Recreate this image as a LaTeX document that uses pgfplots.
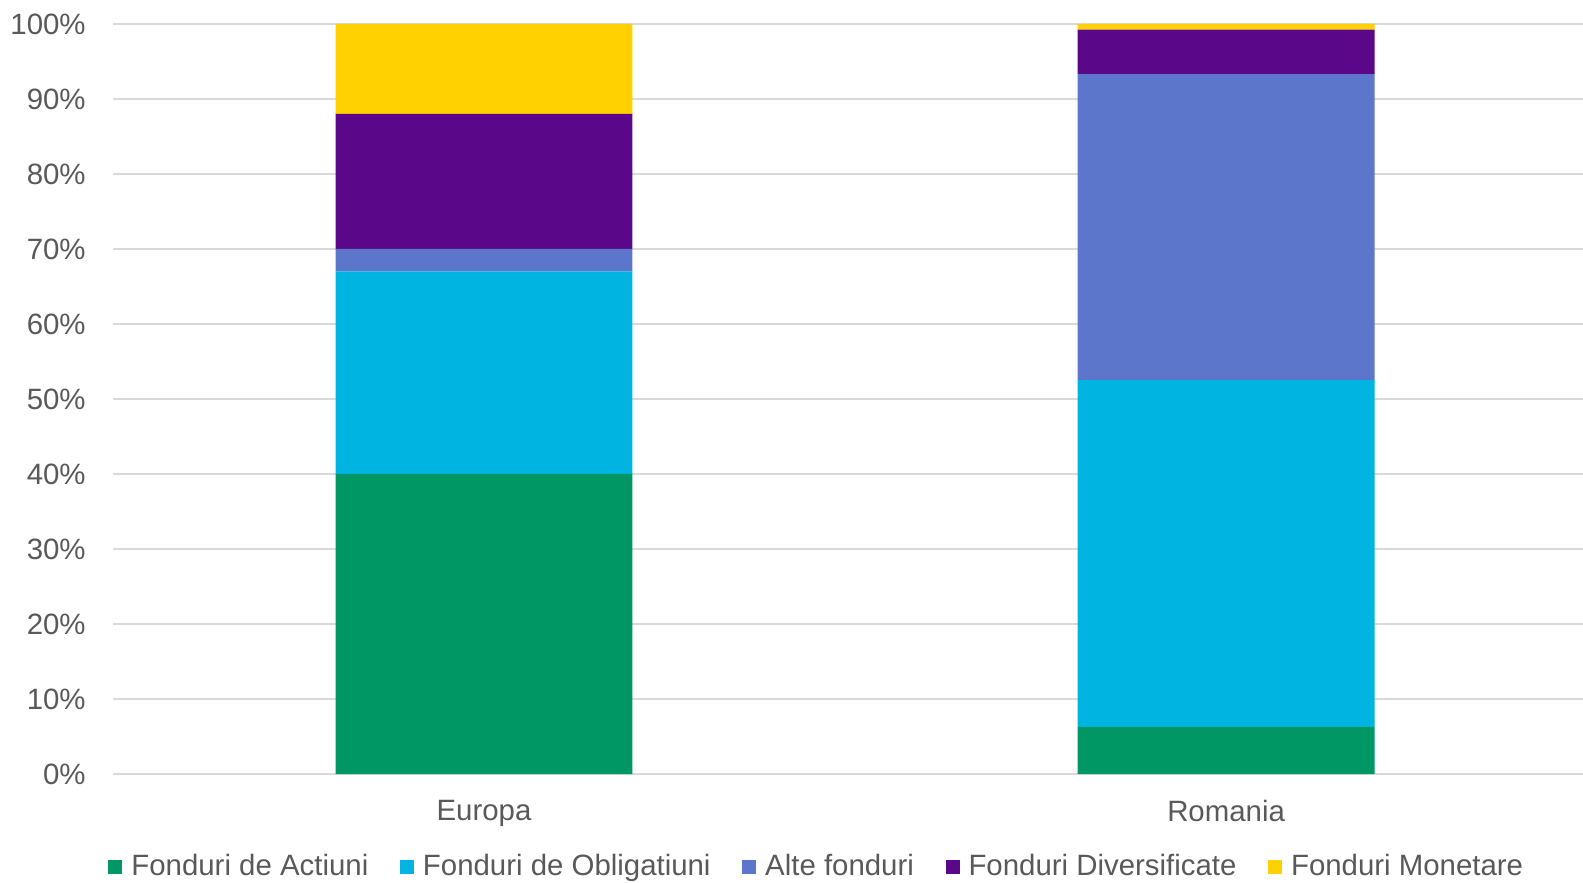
\documentclass[border=0pt]{standalone}
\usepackage{fontspec}
\setmainfont{Liberation Sans}
\usepackage{pgfplots}
\pgfplotsset{compat=1.18}

\definecolor{cActiuni}{RGB}{0,151,100}
\definecolor{cOblig}{RGB}{0,180,226}
\definecolor{cAlte}{RGB}{91,118,203}
\definecolor{cDivers}{RGB}{91,7,137}
\definecolor{cMonet}{RGB}{255,209,0}
\definecolor{txtgray}{RGB}{89,89,89}
\definecolor{gridgray}{RGB}{217,217,217}

\begin{document}
\begin{tikzpicture}
\useasboundingbox (-56.5bp,-54.5bp) rectangle (735bp,387bp);
\begin{axis}[
    at={(0,0)}, anchor=south west,
    scale only axis,
    width=735bp, height=375bp,
    ybar stacked,
    bar width=0.4,
    xmin=-0.5, xmax=1.481,
    ymin=0, ymax=100,
    xtick={0,1},
    xticklabels={Europa,Romania},
    ytick={0,10,...,100},
    yticklabel={\pgfmathprintnumber{\tick}\%},
    /pgf/number format/assume math mode=true,
    axis line style={draw=none},
    major tick length=0pt,
    ymajorgrids,
    grid style={gridgray, line width=1bp},
    font=\fontsize{14.7bp}{17bp}\selectfont,
    tick label style={text=txtgray},
    yticklabel style={anchor=east, inner sep=0pt, xshift=-13.5bp},
    xticklabel style={anchor=north, inner sep=0pt, yshift=-13bp},
    legend columns=-1,
    legend style={draw=none, fill=none, at={(-0.0034,-0.1234)}, anchor=west,
        inner sep=0pt, text=txtgray, font=\fontsize{14.7bp}{17bp}\selectfont,
        /tikz/every odd column/.append style={column sep=3.5bp},
        /tikz/every even column/.append style={column sep=14.8bp},
        nodes={inner sep=1bp}},
    legend cell align=left,
    legend image code/.code={\fill[#1] (0bp,-3.5bp) rectangle (7bp,3.5bp);},
]
\addplot[fill=cActiuni, draw=none] coordinates {(0,40) (1,6.3)};
\addplot[fill=cOblig, draw=none] coordinates {(0,27) (1,46.2)};
\addplot[fill=cAlte, draw=none] coordinates {(0,3) (1,40.8)};
\addplot[fill=cDivers, draw=none] coordinates {(0,18) (1,5.95)};
\addplot[fill=cMonet, draw=none] coordinates {(0,12) (1,0.75)};
\legend{Fonduri de Actiuni, Fonduri de Obligatiuni, Alte fonduri, Fonduri Diversificate, Fonduri Monetare}
\end{axis}
\end{tikzpicture}
\end{document}
